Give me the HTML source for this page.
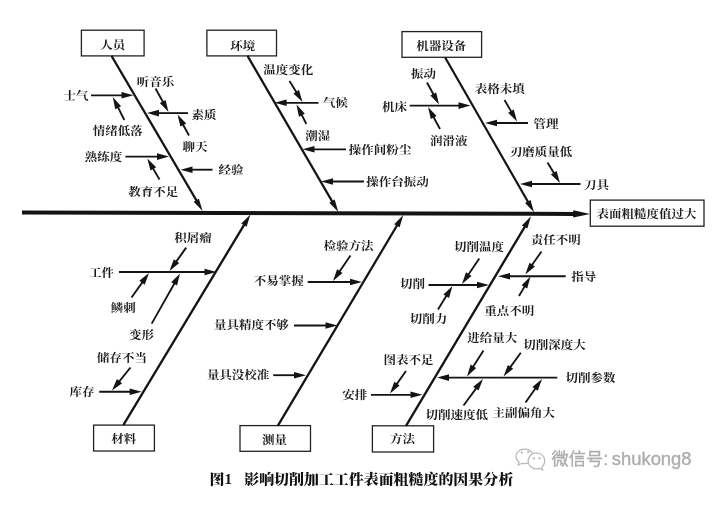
<!DOCTYPE html>
<html lang="zh"><head><meta charset="utf-8"><title>因果分析</title>
<style>
html,body{margin:0;padding:0;background:#fff;}
svg{display:block;font-family:"Liberation Serif","Noto Serif CJK SC",serif;}
#dg{filter:blur(0.35px);}
</style></head><body>
<svg width="724" height="509" viewBox="0 0 724 509">
<rect width="724" height="509" fill="#fff"/>
<g id="dg">
<line x1="22.0" y1="212.4" x2="575.2" y2="213.9" stroke="#141414" stroke-width="4"/>
<polygon points="590.2,213.9 573.2,217.5 573.2,210.3" fill="#141414"/>
<rect x="590.3" y="200.1" width="113.7" height="26.1" fill="none" stroke="#222" stroke-width="1.3"/>
<text transform="translate(646.5,214.55) scale(1,0.91)" font-size="12.5" font-weight="700" text-anchor="middle" dominant-baseline="central" fill="#1c1c1c" >表面粗糙度值过大</text>
<rect x="81.4" y="30.2" width="62.7" height="25.7" fill="none" stroke="#222" stroke-width="1.3"/>
<text transform="translate(112.75,44.85) scale(1,0.91)" font-size="12.5" font-weight="700" text-anchor="middle" dominant-baseline="central" fill="#1c1c1c" >人员</text>
<rect x="206.9" y="30.2" width="69.6" height="25.7" fill="none" stroke="#222" stroke-width="1.3"/>
<text transform="translate(242.8,45.95) scale(1,0.91)" font-size="12.5" font-weight="700" text-anchor="middle" dominant-baseline="central" fill="#1c1c1c" >环境</text>
<rect x="402" y="31.6" width="79.6" height="25.7" fill="none" stroke="#222" stroke-width="1.3"/>
<text transform="translate(441.2,46.15) scale(1,0.91)" font-size="12.5" font-weight="700" text-anchor="middle" dominant-baseline="central" fill="#1c1c1c" >机器设备</text>
<rect x="93.6" y="425.1" width="60.8" height="25.9" fill="none" stroke="#222" stroke-width="1.3"/>
<text transform="translate(123.8,439.45) scale(1,0.91)" font-size="12.5" font-weight="700" text-anchor="middle" dominant-baseline="central" fill="#1c1c1c" >材料</text>
<rect x="240" y="425.6" width="70.5" height="25.7" fill="none" stroke="#222" stroke-width="1.3"/>
<text transform="translate(274.6,439.95) scale(1,0.91)" font-size="12.5" font-weight="700" text-anchor="middle" dominant-baseline="central" fill="#1c1c1c" >测量</text>
<rect x="372.4" y="425.8" width="61.2" height="26.2" fill="none" stroke="#222" stroke-width="1.3"/>
<text transform="translate(402.4,439.35) scale(1,0.91)" font-size="12.5" font-weight="700" text-anchor="middle" dominant-baseline="central" fill="#1c1c1c" >方法</text>
<line x1="111.5" y1="55.9" x2="197.3" y2="201.9" stroke="#141414" stroke-width="2.2"/>
<polygon points="202.6,211.0 193.6,201.8 198.9,198.7" fill="#141414"/>
<line x1="247.5" y1="55.9" x2="333.0" y2="202.9" stroke="#141414" stroke-width="2.2"/>
<polygon points="338.3,212.0 329.3,202.8 334.7,199.6" fill="#141414"/>
<line x1="445.0" y1="57.3" x2="528.8" y2="203.2" stroke="#141414" stroke-width="2.2"/>
<polygon points="534.0,212.3 525.1,203.0 530.5,199.9" fill="#141414"/>
<line x1="123.3" y1="425.1" x2="245.0" y2="223.4" stroke="#141414" stroke-width="2.3"/>
<polygon points="250.4,214.4 246.6,226.7 241.3,223.5" fill="#141414"/>
<line x1="277.9" y1="425.6" x2="397.9" y2="224.0" stroke="#141414" stroke-width="2.3"/>
<polygon points="403.3,215.0 399.6,227.3 394.2,224.2" fill="#141414"/>
<line x1="406.0" y1="425.8" x2="525.6" y2="225.3" stroke="#141414" stroke-width="2.3"/>
<polygon points="531.0,216.3 527.3,228.6 521.9,225.4" fill="#141414"/>
<text transform="translate(155.5,81.85) scale(1,0.91)" font-size="12.5" font-weight="700" text-anchor="middle" dominant-baseline="central" fill="#1c1c1c" >听音乐</text>
<line x1="155.5" y1="88.5" x2="163.7" y2="103.2" stroke="#141414" stroke-width="1.85"/>
<polygon points="168.5,112.0 159.8,103.1 165.6,99.9" fill="#141414"/>
<text transform="translate(76,96.55) scale(1,0.91)" font-size="12.5" font-weight="700" text-anchor="middle" dominant-baseline="central" fill="#1c1c1c" >士气</text>
<line x1="91.0" y1="95.3" x2="123.5" y2="95.3" stroke="#141414" stroke-width="1.85"/>
<polygon points="133.5,95.3 121.5,98.6 121.5,92.0" fill="#141414"/>
<text transform="translate(204,115.25) scale(1,0.91)" font-size="12.5" font-weight="700" text-anchor="middle" dominant-baseline="central" fill="#1c1c1c" >素质</text>
<line x1="188.0" y1="113.1" x2="157.0" y2="113.1" stroke="#141414" stroke-width="1.85"/>
<polygon points="147.0,113.1 159.0,109.8 159.0,116.4" fill="#141414"/>
<text transform="translate(117.7,131.05) scale(1,0.91)" font-size="12.5" font-weight="700" text-anchor="middle" dominant-baseline="central" fill="#1c1c1c" >情绪低落</text>
<line x1="124.3" y1="120.0" x2="117.3" y2="105.9" stroke="#141414" stroke-width="1.85"/>
<polygon points="112.8,97.0 121.1,106.3 115.2,109.2" fill="#141414"/>
<text transform="translate(195,147.55) scale(1,0.91)" font-size="12.5" font-weight="700" text-anchor="middle" dominant-baseline="central" fill="#1c1c1c" >聊天</text>
<line x1="189.0" y1="135.5" x2="182.3" y2="123.3" stroke="#141414" stroke-width="1.85"/>
<polygon points="177.5,114.5 186.2,123.4 180.4,126.6" fill="#141414"/>
<text transform="translate(103.4,157.15) scale(1,0.91)" font-size="12.5" font-weight="700" text-anchor="middle" dominant-baseline="central" fill="#1c1c1c" >熟练度</text>
<line x1="125.4" y1="156.6" x2="159.0" y2="156.6" stroke="#141414" stroke-width="1.85"/>
<polygon points="169.0,156.6 157.0,159.9 157.0,153.3" fill="#141414"/>
<text transform="translate(230.9,170.15) scale(1,0.91)" font-size="12.5" font-weight="700" text-anchor="middle" dominant-baseline="central" fill="#1c1c1c" >经验</text>
<line x1="212.5" y1="169.7" x2="190.5" y2="169.7" stroke="#141414" stroke-width="1.85"/>
<polygon points="180.5,169.7 192.5,166.4 192.5,173.0" fill="#141414"/>
<text transform="translate(153.3,192.15) scale(1,0.91)" font-size="12.5" font-weight="700" text-anchor="middle" dominant-baseline="central" fill="#1c1c1c" >教育不足</text>
<line x1="159.5" y1="179.5" x2="152.3" y2="167.1" stroke="#141414" stroke-width="1.85"/>
<polygon points="147.3,158.5 156.2,167.2 150.5,170.5" fill="#141414"/>
<text transform="translate(288.3,70.25) scale(1,0.91)" font-size="12.5" font-weight="700" text-anchor="middle" dominant-baseline="central" fill="#1c1c1c" >温度变化</text>
<line x1="289.5" y1="81.0" x2="297.2" y2="93.5" stroke="#141414" stroke-width="1.85"/>
<polygon points="302.5,102.0 293.4,93.5 299.0,90.1" fill="#141414"/>
<text transform="translate(335.5,103.45) scale(1,0.91)" font-size="12.5" font-weight="700" text-anchor="middle" dominant-baseline="central" fill="#1c1c1c" >气候</text>
<line x1="318.5" y1="102.8" x2="284.6" y2="102.8" stroke="#141414" stroke-width="1.85"/>
<polygon points="274.6,102.8 286.6,99.5 286.6,106.1" fill="#141414"/>
<text transform="translate(317.8,136.05) scale(1,0.91)" font-size="12.5" font-weight="700" text-anchor="middle" dominant-baseline="central" fill="#1c1c1c" >潮湿</text>
<line x1="306.3" y1="124.0" x2="301.0" y2="113.4" stroke="#141414" stroke-width="1.85"/>
<polygon points="296.5,104.5 304.8,113.7 298.9,116.7" fill="#141414"/>
<text transform="translate(380,150.35) scale(1,0.91)" font-size="12.5" font-weight="700" text-anchor="middle" dominant-baseline="central" fill="#1c1c1c" >操作间粉尘</text>
<line x1="346.0" y1="149.3" x2="312.5" y2="149.3" stroke="#141414" stroke-width="1.85"/>
<polygon points="302.5,149.3 314.5,146.0 314.5,152.6" fill="#141414"/>
<text transform="translate(397.5,182.55) scale(1,0.91)" font-size="12.5" font-weight="700" text-anchor="middle" dominant-baseline="central" fill="#1c1c1c" >操作台振动</text>
<line x1="364.0" y1="181.5" x2="331.0" y2="181.5" stroke="#141414" stroke-width="1.85"/>
<polygon points="321.0,181.5 333.0,178.2 333.0,184.8" fill="#141414"/>
<text transform="translate(423.5,73.85) scale(1,0.91)" font-size="12.5" font-weight="700" text-anchor="middle" dominant-baseline="central" fill="#1c1c1c" >振动</text>
<line x1="427.0" y1="82.5" x2="434.2" y2="95.7" stroke="#141414" stroke-width="1.85"/>
<polygon points="439.0,104.5 430.4,95.5 436.2,92.4" fill="#141414"/>
<text transform="translate(394.5,106.75) scale(1,0.91)" font-size="12.5" font-weight="700" text-anchor="middle" dominant-baseline="central" fill="#1c1c1c" >机床</text>
<line x1="409.7" y1="105.6" x2="460.5" y2="105.6" stroke="#141414" stroke-width="1.85"/>
<polygon points="470.5,105.6 458.5,108.9 458.5,102.3" fill="#141414"/>
<text transform="translate(448.8,141.55) scale(1,0.91)" font-size="12.5" font-weight="700" text-anchor="middle" dominant-baseline="central" fill="#1c1c1c" >润滑液</text>
<line x1="440.0" y1="129.0" x2="432.8" y2="115.8" stroke="#141414" stroke-width="1.85"/>
<polygon points="428.0,107.0 436.6,116.0 430.8,119.1" fill="#141414"/>
<text transform="translate(499.8,89.55) scale(1,0.91)" font-size="12.5" font-weight="700" text-anchor="middle" dominant-baseline="central" fill="#1c1c1c" >表格未填</text>
<line x1="504.5" y1="100.0" x2="512.0" y2="112.9" stroke="#141414" stroke-width="1.85"/>
<polygon points="517.0,121.5 508.1,112.8 513.8,109.5" fill="#141414"/>
<text transform="translate(546,124.15) scale(1,0.91)" font-size="12.5" font-weight="700" text-anchor="middle" dominant-baseline="central" fill="#1c1c1c" >管理</text>
<line x1="528.0" y1="123.0" x2="495.0" y2="123.0" stroke="#141414" stroke-width="1.85"/>
<polygon points="485.0,123.0 497.0,119.7 497.0,126.3" fill="#141414"/>
<text transform="translate(541.1,152.05) scale(1,0.91)" font-size="12.5" font-weight="700" text-anchor="middle" dominant-baseline="central" fill="#1c1c1c" >刃磨质量低</text>
<line x1="547.5" y1="162.5" x2="554.8" y2="174.5" stroke="#141414" stroke-width="1.85"/>
<polygon points="560.0,183.0 550.9,174.5 556.6,171.0" fill="#141414"/>
<text transform="translate(596.6,185.05) scale(1,0.91)" font-size="12.5" font-weight="700" text-anchor="middle" dominant-baseline="central" fill="#1c1c1c" >刀具</text>
<line x1="580.5" y1="184.0" x2="530.0" y2="184.0" stroke="#141414" stroke-width="1.85"/>
<polygon points="520.0,184.0 532.0,180.7 532.0,187.3" fill="#141414"/>
<text transform="translate(192.9,238.35) scale(1,0.91)" font-size="12.5" font-weight="700" text-anchor="middle" dominant-baseline="central" fill="#1c1c1c" >积屑瘤</text>
<line x1="186.2" y1="247.6" x2="175.3" y2="262.9" stroke="#141414" stroke-width="1.85"/>
<polygon points="169.5,271.0 173.8,259.3 179.2,263.1" fill="#141414"/>
<text transform="translate(101.4,272.85) scale(1,0.91)" font-size="12.5" font-weight="700" text-anchor="middle" dominant-baseline="central" fill="#1c1c1c" >工件</text>
<line x1="119.0" y1="272.0" x2="206.5" y2="272.0" stroke="#141414" stroke-width="1.85"/>
<polygon points="216.5,272.0 204.5,275.3 204.5,268.7" fill="#141414"/>
<text transform="translate(123.2,308.05) scale(1,0.91)" font-size="12.5" font-weight="700" text-anchor="middle" dominant-baseline="central" fill="#1c1c1c" >鳞刺</text>
<line x1="131.5" y1="297.5" x2="143.2" y2="281.1" stroke="#141414" stroke-width="1.85"/>
<polygon points="149.0,273.0 144.7,284.7 139.3,280.8" fill="#141414"/>
<text transform="translate(141.5,335.15) scale(1,0.91)" font-size="12.5" font-weight="700" text-anchor="middle" dominant-baseline="central" fill="#1c1c1c" >变形</text>
<line x1="151.7" y1="323.6" x2="175.1" y2="282.2" stroke="#141414" stroke-width="1.85"/>
<polygon points="180.0,273.5 177.0,285.6 171.2,282.3" fill="#141414"/>
<text transform="translate(122,358.55) scale(1,0.91)" font-size="12.5" font-weight="700" text-anchor="middle" dominant-baseline="central" fill="#1c1c1c" >储存不当</text>
<line x1="130.5" y1="367.5" x2="118.3" y2="382.7" stroke="#141414" stroke-width="1.85"/>
<polygon points="112.0,390.5 116.9,379.1 122.1,383.2" fill="#141414"/>
<text transform="translate(82,391.75) scale(1,0.91)" font-size="12.5" font-weight="700" text-anchor="middle" dominant-baseline="central" fill="#1c1c1c" >库存</text>
<line x1="99.2" y1="391.7" x2="131.7" y2="391.7" stroke="#141414" stroke-width="1.85"/>
<polygon points="141.7,391.7 129.7,395.0 129.7,388.4" fill="#141414"/>
<text transform="translate(348.5,246.55) scale(1,0.91)" font-size="12.5" font-weight="700" text-anchor="middle" dominant-baseline="central" fill="#1c1c1c" >检验方法</text>
<line x1="350.5" y1="255.5" x2="338.7" y2="272.8" stroke="#141414" stroke-width="1.85"/>
<polygon points="333.0,281.0 337.1,269.2 342.5,273.0" fill="#141414"/>
<text transform="translate(278.7,281.25) scale(1,0.91)" font-size="12.5" font-weight="700" text-anchor="middle" dominant-baseline="central" fill="#1c1c1c" >不易掌握</text>
<line x1="307.7" y1="282.0" x2="352.0" y2="282.0" stroke="#141414" stroke-width="1.85"/>
<polygon points="362.0,282.0 350.0,285.3 350.0,278.7" fill="#141414"/>
<text transform="translate(251.4,325.55) scale(1,0.91)" font-size="12.5" font-weight="700" text-anchor="middle" dominant-baseline="central" fill="#1c1c1c" >量具精度不够</text>
<line x1="294.0" y1="325.5" x2="327.5" y2="325.5" stroke="#141414" stroke-width="1.85"/>
<polygon points="337.5,325.5 325.5,328.8 325.5,322.2" fill="#141414"/>
<text transform="translate(238.1,375.15) scale(1,0.91)" font-size="12.5" font-weight="700" text-anchor="middle" dominant-baseline="central" fill="#1c1c1c" >量具没校准</text>
<line x1="273.2" y1="375.2" x2="296.0" y2="375.2" stroke="#141414" stroke-width="1.85"/>
<polygon points="306.0,375.2 294.0,378.5 294.0,371.9" fill="#141414"/>
<text transform="translate(478.9,247.35) scale(1,0.91)" font-size="12.5" font-weight="700" text-anchor="middle" dominant-baseline="central" fill="#1c1c1c" >切削温度</text>
<line x1="479.3" y1="258.5" x2="467.6" y2="275.7" stroke="#141414" stroke-width="1.85"/>
<polygon points="462.0,284.0 466.0,272.2 471.5,275.9" fill="#141414"/>
<text transform="translate(412.5,284.15) scale(1,0.91)" font-size="12.5" font-weight="700" text-anchor="middle" dominant-baseline="central" fill="#1c1c1c" >切削</text>
<line x1="428.5" y1="285.0" x2="479.0" y2="285.0" stroke="#141414" stroke-width="1.85"/>
<polygon points="489.0,285.0 477.0,288.3 477.0,281.7" fill="#141414"/>
<text transform="translate(428.5,319.55) scale(1,0.91)" font-size="12.5" font-weight="700" text-anchor="middle" dominant-baseline="central" fill="#1c1c1c" >切削力</text>
<line x1="438.0" y1="309.5" x2="447.2" y2="294.5" stroke="#141414" stroke-width="1.85"/>
<polygon points="452.5,286.0 449.0,297.9 443.4,294.5" fill="#141414"/>
<text transform="translate(555.8,240.45) scale(1,0.91)" font-size="12.5" font-weight="700" text-anchor="middle" dominant-baseline="central" fill="#1c1c1c" >责任不明</text>
<line x1="541.5" y1="251.5" x2="531.1" y2="266.3" stroke="#141414" stroke-width="1.85"/>
<polygon points="525.3,274.5 529.5,262.8 534.9,266.6" fill="#141414"/>
<text transform="translate(583.7,277.15) scale(1,0.91)" font-size="12.5" font-weight="700" text-anchor="middle" dominant-baseline="central" fill="#1c1c1c" >指导</text>
<line x1="565.7" y1="276.2" x2="508.0" y2="276.2" stroke="#141414" stroke-width="1.85"/>
<polygon points="498.0,276.2 510.0,272.9 510.0,279.5" fill="#141414"/>
<text transform="translate(509.2,311.15) scale(1,0.91)" font-size="12.5" font-weight="700" text-anchor="middle" dominant-baseline="central" fill="#1c1c1c" >重点不明</text>
<line x1="519.0" y1="296.0" x2="525.4" y2="285.1" stroke="#141414" stroke-width="1.85"/>
<polygon points="530.5,276.5 527.2,288.5 521.6,285.2" fill="#141414"/>
<text transform="translate(492.2,338.55) scale(1,0.91)" font-size="12.5" font-weight="700" text-anchor="middle" dominant-baseline="central" fill="#1c1c1c" >进给量大</text>
<line x1="483.5" y1="350.4" x2="472.3" y2="368.0" stroke="#141414" stroke-width="1.85"/>
<polygon points="467.0,376.5 470.6,364.6 476.2,368.1" fill="#141414"/>
<text transform="translate(554.4,344.75) scale(1,0.91)" font-size="12.5" font-weight="700" text-anchor="middle" dominant-baseline="central" fill="#1c1c1c" >切削深度大</text>
<line x1="520.8" y1="352.8" x2="509.4" y2="368.4" stroke="#141414" stroke-width="1.85"/>
<polygon points="503.5,376.5 507.9,364.9 513.2,368.8" fill="#141414"/>
<text transform="translate(590.5,377.85) scale(1,0.91)" font-size="12.5" font-weight="700" text-anchor="middle" dominant-baseline="central" fill="#1c1c1c" >切削参数</text>
<line x1="557.3" y1="377.6" x2="447.0" y2="377.6" stroke="#141414" stroke-width="1.85"/>
<polygon points="437.0,377.6 449.0,374.3 449.0,380.9" fill="#141414"/>
<text transform="translate(456.8,415.55) scale(1,0.91)" font-size="12.5" font-weight="700" text-anchor="middle" dominant-baseline="central" fill="#1c1c1c" >切削速度低</text>
<line x1="463.5" y1="405.5" x2="477.1" y2="387.1" stroke="#141414" stroke-width="1.85"/>
<polygon points="483.0,379.0 478.5,390.6 473.2,386.7" fill="#141414"/>
<text transform="translate(523.8,413.15) scale(1,0.91)" font-size="12.5" font-weight="700" text-anchor="middle" dominant-baseline="central" fill="#1c1c1c" >主副偏角大</text>
<line x1="525.5" y1="402.5" x2="536.3" y2="387.2" stroke="#141414" stroke-width="1.85"/>
<polygon points="542.0,379.0 537.8,390.7 532.4,386.9" fill="#141414"/>
<text transform="translate(408.5,360.35) scale(1,0.91)" font-size="12.5" font-weight="700" text-anchor="middle" dominant-baseline="central" fill="#1c1c1c" >图表不足</text>
<line x1="406.0" y1="371.0" x2="395.8" y2="385.4" stroke="#141414" stroke-width="1.85"/>
<polygon points="390.0,393.5 394.3,381.8 399.6,385.6" fill="#141414"/>
<text transform="translate(354.7,394.75) scale(1,0.91)" font-size="12.5" font-weight="700" text-anchor="middle" dominant-baseline="central" fill="#1c1c1c" >安排</text>
<line x1="371.0" y1="394.8" x2="412.5" y2="394.8" stroke="#141414" stroke-width="1.85"/>
<polygon points="422.5,394.8 410.5,398.1 410.5,391.5" fill="#141414"/>
<text transform="translate(209.5,478.75) scale(1,0.91)" font-size="15" font-weight="900" text-anchor="start" dominant-baseline="central" fill="#111" >图1</text>
<text transform="translate(244.2,478.75) scale(1,0.91)" font-size="14.95" font-weight="900" text-anchor="start" dominant-baseline="central" fill="#111" >影响切削加工工件表面粗糙度的因果分析</text>
<g>
<g fill="#fff" stroke="#b9b9b9" stroke-width="1.2" stroke-linejoin="round">
<path d="M524.6 449.2c-4.9 0-8.7 3.2-8.7 7.2 0 2.3 1.3 4.3 3.3 5.6l-1.2 3.3 3.9-2c.9.2 1.8.3 2.7.3 4.9 0 8.7-3.2 8.7-7.2s-3.800-7.200-8.700-7.200z"/>
<path d="M536.400 452.800c4.600 0 8.300 3.600 8.300 8.100 0 2.500-1.200 4.700-3 6.200l1.100 3-3.500-1.700c-.9.300-1.900.500-2.900.500-4.600 0-8.300-3.600-8.300-8.000s3.700-8.100 8.300-8.100z"/>
</g>
<g fill="#c2c2c2"><circle cx="521.8" cy="452.600" r="1.2"/><circle cx="528.300" cy="452" r="1.2"/><circle cx="533.900" cy="458.200" r="1.2"/><circle cx="539.500" cy="458.200" r="1.2"/></g>
<text y="465" font-family='"Liberation Sans","Noto Sans CJK SC",sans-serif' font-size="17.2" fill="#adadad" stroke="#adadad" stroke-width="0.35"><tspan x="551.5">微信号</tspan><tspan x="603.3" font-size="18.4">:</tspan><tspan x="611.8" font-size="18.4">shukong8</tspan></text>
</g>
</g>
</svg>
</body></html>
